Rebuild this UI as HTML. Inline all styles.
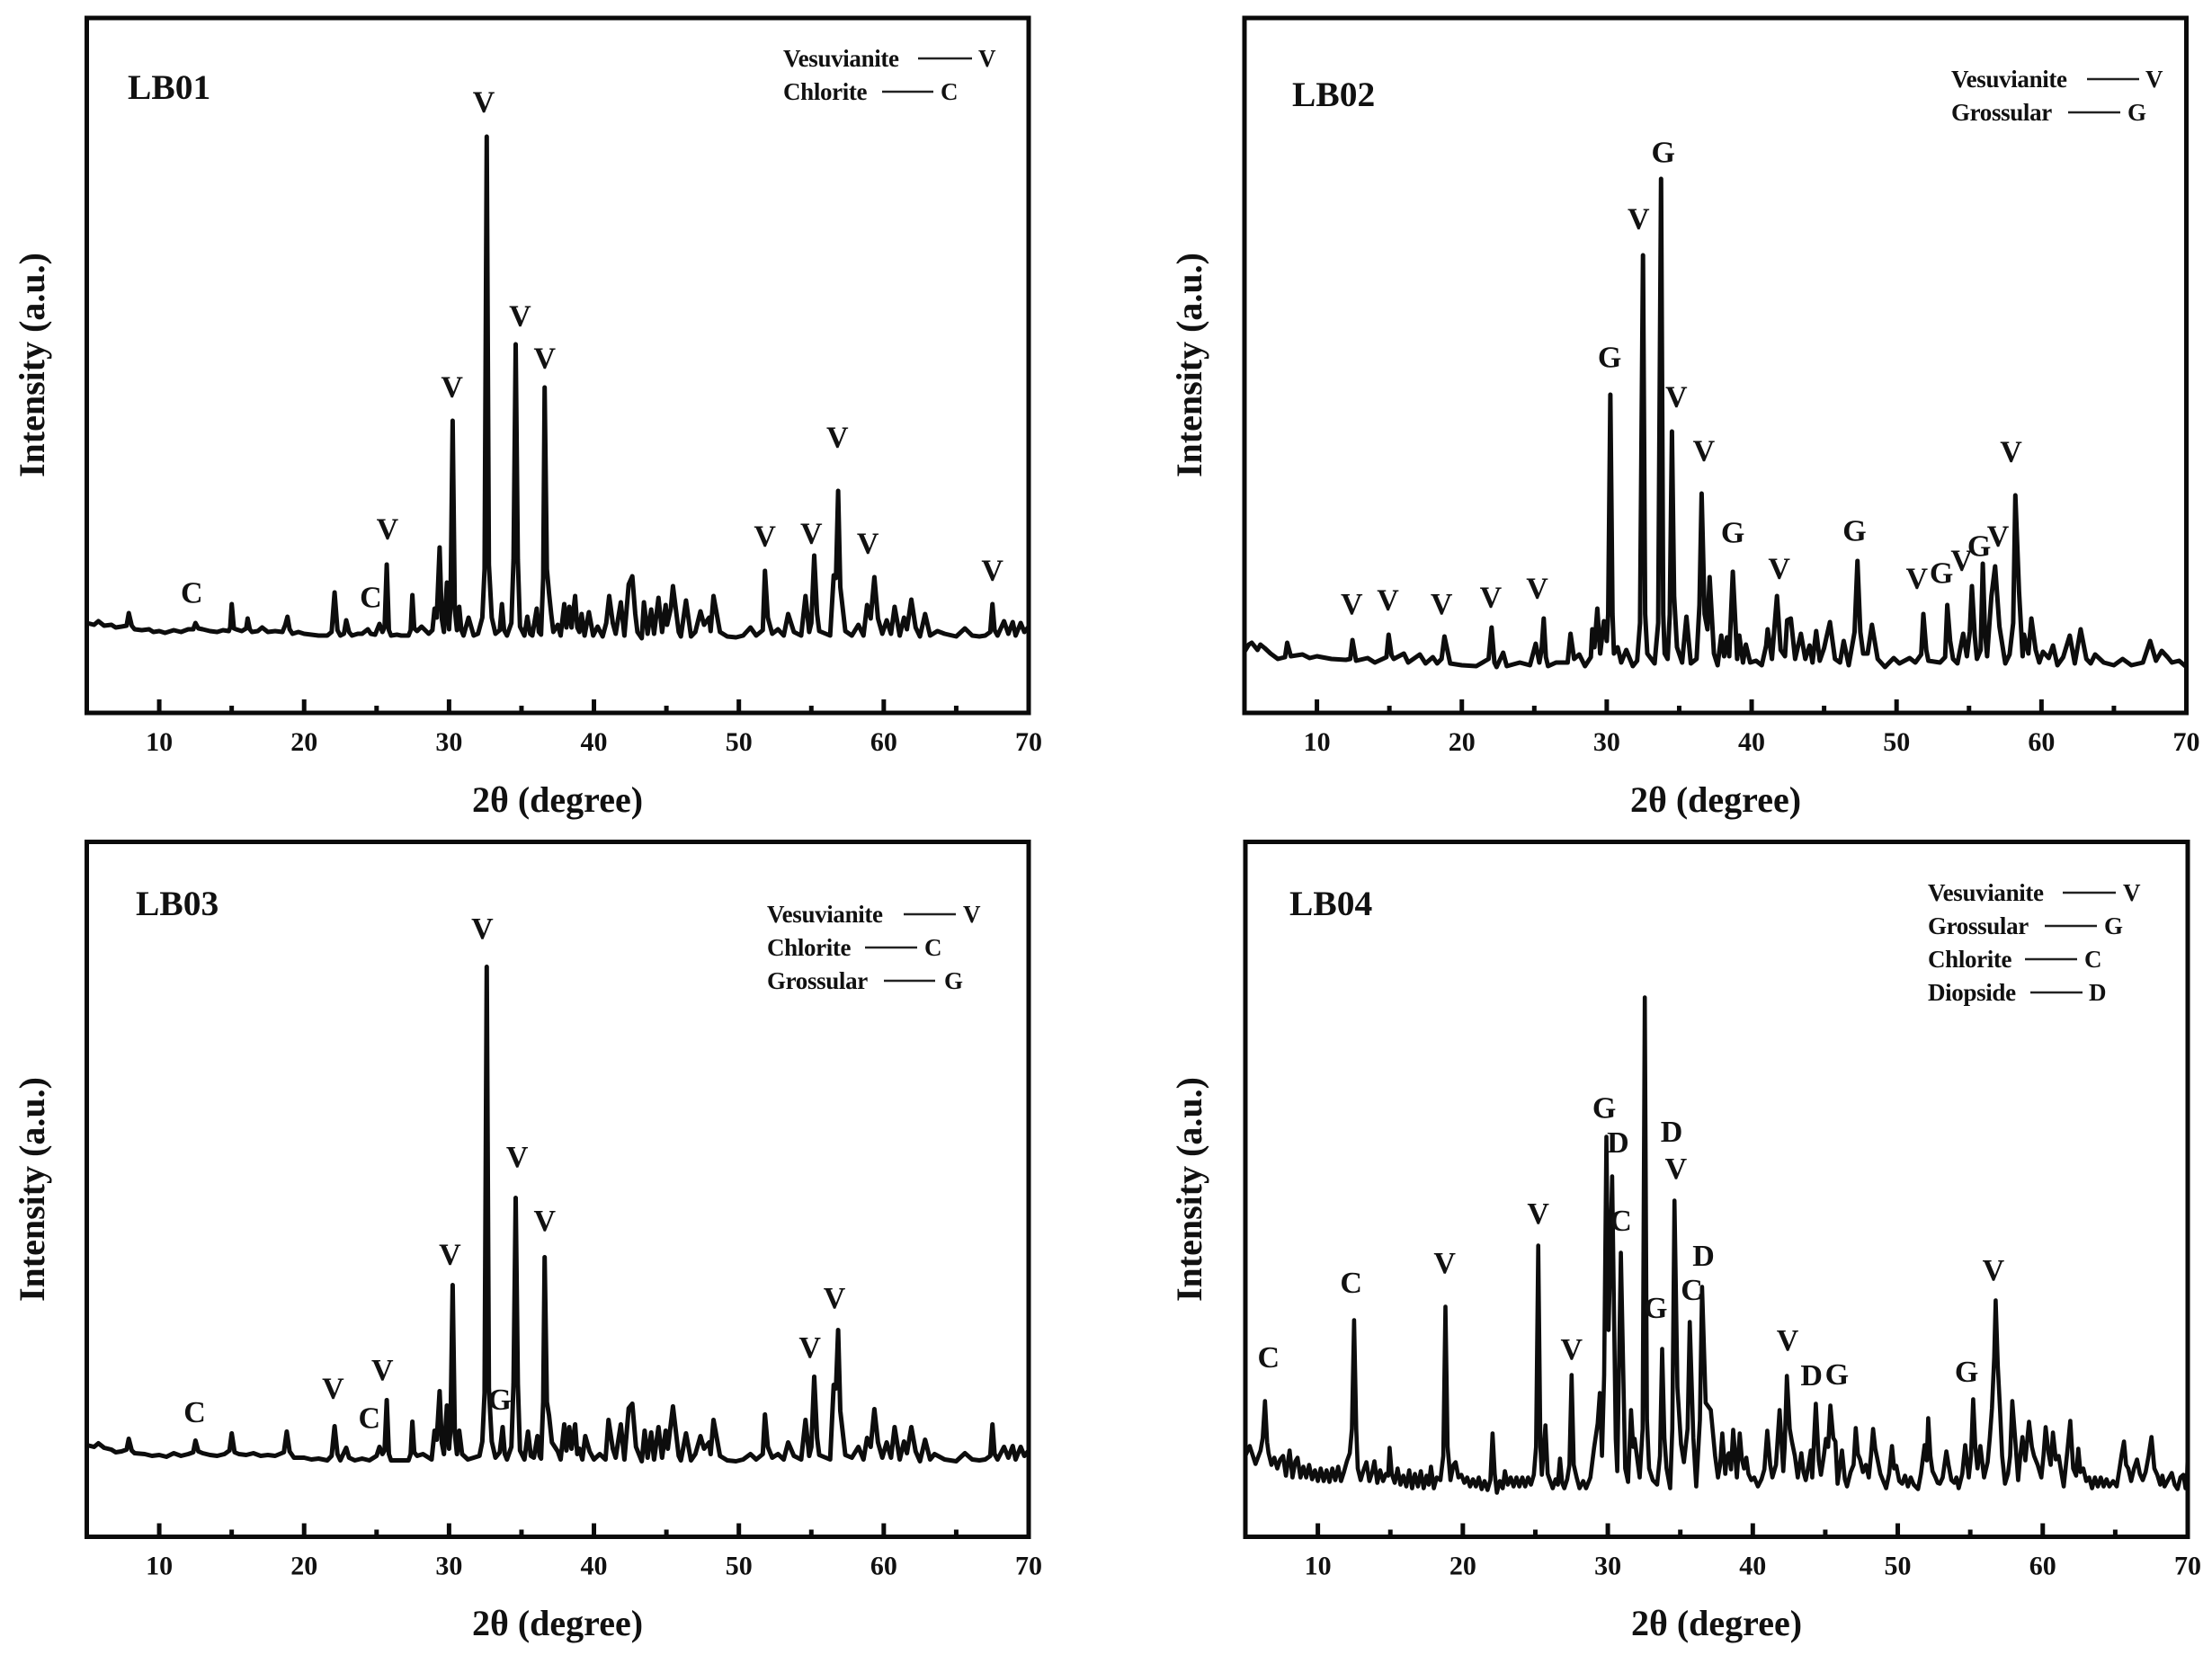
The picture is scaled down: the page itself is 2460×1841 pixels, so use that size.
<!DOCTYPE html>
<html lang="en">
<head>
<meta charset="utf-8">
<title>XRD patterns LB01-LB04</title>
<style>
html,body{margin:0;padding:0;background:#fff;}
svg{display:block;}
text{font-family:"Liberation Serif","DejaVu Serif",serif;font-weight:bold;fill:#111;}
.frame{fill:none;stroke:#0a0a0a;stroke-width:5;}
.trace{fill:none;stroke:#0d0d0d;stroke-linejoin:round;stroke-linecap:round;}
.tick{stroke:#0a0a0a;stroke-width:5;}
.ticklabel{font-size:30px;text-anchor:middle;}
.xtitle{font-size:40px;text-anchor:middle;}
.ytitle{font-size:40px;text-anchor:middle;}
.ptitle{font-size:39.5px;}
.leg{font-size:27px;letter-spacing:-0.35px;}
.dash{stroke:#222;stroke-width:2.5;}
.peak{font-size:34px;text-anchor:middle;}
</style>
</head>
<body>
<svg id="fig" xmlns="http://www.w3.org/2000/svg" width="2460" height="1841" viewBox="0 0 2460 1841">
<rect width="2460" height="1841" fill="#fff"/>

<g id="p1">
<text class="ptitle" x="142" y="110">LB01</text>
<g>
<text class="leg" x="871" y="74">Vesuvianite</text>
<line class="dash" x1="1021" x2="1081" y1="65" y2="65"/>
<text class="leg" x="1088" y="74">V</text>
<text class="leg" x="871" y="111">Chlorite</text>
<line class="dash" x1="981" x2="1038" y1="102" y2="102"/>
<text class="leg" x="1046" y="111">C</text>
</g>
<text class="xtitle" x="620" y="903">2θ (degree)</text>
<text class="ytitle" transform="translate(49,406) rotate(-90)">Intensity (a.u.)</text>
</g>

<g id="p2">
<text class="ptitle" x="1437" y="118">LB02</text>
<g>
<text class="leg" x="2170" y="97">Vesuvianite</text>
<line class="dash" x1="2321" x2="2379" y1="88" y2="88"/>
<text class="leg" x="2386" y="97">V</text>
<text class="leg" x="2170" y="134">Grossular</text>
<line class="dash" x1="2300" x2="2358" y1="125" y2="125"/>
<text class="leg" x="2366" y="134">G</text>
</g>
<text class="xtitle" x="1908" y="903">2θ (degree)</text>
<text class="ytitle" transform="translate(1336,406) rotate(-90)">Intensity (a.u.)</text>
</g>

<g id="p3">
<text class="ptitle" x="151" y="1018">LB03</text>
<g>
<text class="leg" x="853" y="1026">Vesuvianite</text>
<line class="dash" x1="1005" x2="1063" y1="1017" y2="1017"/>
<text class="leg" x="1071" y="1026">V</text>
<text class="leg" x="853" y="1063">Chlorite</text>
<line class="dash" x1="962" x2="1020" y1="1054" y2="1054"/>
<text class="leg" x="1028" y="1063">C</text>
<text class="leg" x="853" y="1100">Grossular</text>
<line class="dash" x1="983" x2="1040" y1="1091" y2="1091"/>
<text class="leg" x="1050" y="1100">G</text>
</g>
<text class="xtitle" x="620" y="1819">2θ (degree)</text>
<text class="ytitle" transform="translate(49,1323) rotate(-90)">Intensity (a.u.)</text>
</g>

<g id="p4">
<text class="ptitle" x="1434" y="1018">LB04</text>
<g>
<text class="leg" x="2144" y="1002">Vesuvianite</text>
<line class="dash" x1="2294" x2="2353" y1="993" y2="993"/>
<text class="leg" x="2361" y="1002">V</text>
<text class="leg" x="2144" y="1039">Grossular</text>
<line class="dash" x1="2274" x2="2332" y1="1030" y2="1030"/>
<text class="leg" x="2340" y="1039">G</text>
<text class="leg" x="2144" y="1076">Chlorite</text>
<line class="dash" x1="2252" x2="2310" y1="1067" y2="1067"/>
<text class="leg" x="2318" y="1076">C</text>
<text class="leg" x="2144" y="1113">Diopside</text>
<line class="dash" x1="2258" x2="2316" y1="1104" y2="1104"/>
<text class="leg" x="2323" y="1113">D</text>
</g>
<text class="xtitle" x="1909" y="1819">2θ (degree)</text>
<text class="ytitle" transform="translate(1336,1323) rotate(-90)">Intensity (a.u.)</text>
</g>
</svg>

<script>
const majorTicks = [10,20,30,40,50,60];
const minorTicks = [15,25,35,45,55,65];
const tickLabels = [10,20,30,40,50,60,70];

const lb01Theta = [
5,5.5,5.8,6.2,6.7,7,7.4,7.75,7.9,8.1,8.3,8.8,
9.3,9.6,10,10.4,11,11.5,12,12.35,12.5,12.7,13,13.5,
14,14.4,14.8,14.9,15,15.15,15.3,15.7,16,16.1,16.25,16.4,
16.8,17.1,17.5,18,18.5,18.7,18.85,19,19.2,19.6,20,20.5,
21,21.6,21.9,22.1,22.3,22.5,22.75,22.9,23.1,23.3,23.7,24,
24.4,24.6,24.9,25.2,25.4,25.55,25.7,25.85,26,26.4,26.7,27.2,
27.35,27.47,27.6,27.8,28.1,28.6,28.85,29,29.15,29.35,29.5,29.65,
29.85,30,30.1,30.25,30.4,30.55,30.7,30.85,31,31.35,31.7,32,
32.3,32.45,32.6,32.75,32.95,33.2,33.5,33.65,33.8,34,34.3,34.45,
34.6,34.75,34.9,35.2,35.4,35.6,35.75,36.05,36.2,36.35,36.5,36.6,
36.75,36.9,37.05,37.2,37.5,37.7,37.95,38.1,38.3,38.45,38.7,38.85,
39,39.15,39.35,39.65,39.95,40.25,40.6,40.85,41.05,41.3,41.5,41.85,
42.1,42.4,42.65,42.85,43,43.3,43.45,43.7,43.95,44.15,44.45,44.7,
44.95,45.05,45.3,45.45,45.85,46,46.35,46.7,47,47.35,47.6,47.95,
48.05,48.25,48.7,49.2,49.8,50.3,50.8,51.2,51.65,51.8,52,52.3,
52.7,53.1,53.4,53.8,54.3,54.6,54.85,55,55.2,55.4,55.55,56,
56.3,56.55,56.7,56.85,57,57.35,57.8,58.25,58.6,58.85,59.1,59.35,
59.6,59.9,60.2,60.5,60.75,61.1,61.4,61.6,61.9,62.2,62.5,62.85,
63.2,63.7,64.2,65,65.6,66.1,66.6,67,67.35,67.5,67.65,67.85,
68.3,68.6,68.9,69.1,69.45,69.7,70];
const lb01Intensity = [
100,98,102,97,98,95,96,97,111,97,93,92,
93,90,91,89,92,90,93,93,100,94,93,91,
90,92,91,95,121,94,93,91,94,105,93,90,
91,95,90,91,90,98,107,93,88,90,88,87,
86,86,90,134,92,86,88,103,90,86,88,88,
93,88,87,99,90,95,165,92,86,87,86,86,
92,131,94,91,96,88,92,116,106,184,105,90,
145,93,120,325,115,92,118,92,86,106,86,88,
106,160,641,165,106,88,92,121,92,86,100,170,
410,170,96,86,107,88,86,116,90,87,150,362,
160,133,110,90,98,86,121,95,118,95,130,95,
90,110,86,112,86,96,85,100,130,100,88,123,
86,143,152,110,90,83,123,88,115,88,128,90,
120,98,116,141,90,85,125,85,90,113,98,106,
91,130,90,85,84,86,95,86,92,158,106,88,
93,86,110,90,86,130,90,100,175,110,91,88,
86,153,150,247,140,91,86,98,86,120,105,151,
105,88,103,88,118,86,106,93,126,95,85,110,
86,91,88,85,94,86,85,86,90,121,92,86,
102,88,101,86,100,90,96];

const lb02Theta = [
5,5.3,5.5,5.9,6.1,6.4,6.8,7.3,7.8,7.95,8.2,9,
9.5,10,11,12,12.3,12.45,12.7,13.5,14,14.8,14.95,15.15,
15.3,16,16.3,17.1,17.5,18,18.3,18.6,18.8,19,19.2,20,
21,21.85,22.05,22.25,22.4,22.85,23.1,24,24.7,25.1,25.35,25.5,
25.65,25.8,25.95,26.5,27.3,27.5,27.75,28.1,28.5,28.9,29,29.15,
29.35,29.55,29.8,30,30.1,30.25,30.4,30.5,30.75,31,31.35,31.8,
32.1,32.3,32.5,32.65,32.8,33.3,33.55,33.75,33.9,34,34.2,34.35,
34.5,34.65,34.85,35.2,35.5,35.8,36.2,36.4,36.55,36.75,36.95,37.1,
37.4,37.65,37.9,38.1,38.3,38.45,38.7,39,39.15,39.4,39.6,39.9,
40.3,40.7,41,41.1,41.4,41.75,42,42.3,42.45,42.7,43,43.4,
43.7,44,44.2,44.45,44.7,45,45.15,45.4,45.75,46.1,46.35,46.7,
47.1,47.3,47.5,47.7,48,48.3,48.7,49.2,49.8,50.2,50.9,51.3,
51.7,51.85,52.05,52.2,53,53.35,53.5,53.7,53.9,54.2,54.6,54.85,
55.05,55.2,55.4,55.55,55.8,55.95,56.1,56.25,56.55,56.8,57.1,57.5,
57.8,58.05,58.2,58.45,58.7,58.8,59.1,59.3,59.6,59.85,60.1,60.5,
60.8,61.1,61.5,61.95,62.3,62.7,63.1,63.4,63.7,64.3,65,65.6,
66.2,67,67.5,67.9,68.3,68.7,69,69.5,70];
const lb02Intensity = [
68,76,78,70,76,72,66,60,62,78,63,65,
61,63,60,59,60,81,58,61,56,62,87,64,
60,66,56,65,55,62,55,60,85,70,55,53,
52,60,95,56,51,67,52,56,53,77,56,70,
105,62,52,56,56,88,60,65,52,62,93,73,
116,66,102,80,110,354,110,66,73,56,70,52,
58,100,509,110,66,55,100,594,110,66,60,110,
313,130,73,56,107,55,60,120,244,110,93,151,
66,53,86,63,84,63,157,60,86,56,76,56,
58,53,75,93,60,130,70,63,103,105,60,88,
60,75,56,91,58,72,83,101,60,56,80,53,
90,169,90,66,66,98,60,51,61,55,61,56,
65,110,70,58,56,62,120,80,60,55,88,63,
90,141,85,60,70,166,90,63,130,163,96,55,
65,100,242,135,63,87,66,105,70,56,68,61,
75,53,62,86,55,93,60,55,65,56,53,60,
53,56,80,58,69,62,56,58,51];

const lb03Theta = [
5,5.5,5.8,6.2,6.7,7,7.4,7.75,7.9,8.1,8.3,9,
9.5,10,10.5,11,11.5,12,12.35,12.5,12.7,13,13.5,14,
14.5,14.85,15,15.2,15.5,16,16.5,17,17.5,18,18.6,18.8,
19,19.3,20,20.5,21,21.6,21.9,22.1,22.3,22.5,22.9,23.1,
23.5,24,24.5,25,25.2,25.4,25.55,25.7,25.85,26,26.7,27.2,
27.35,27.47,27.6,27.8,28.2,28.8,29,29.15,29.35,29.5,29.65,29.85,
30,30.1,30.25,30.4,30.55,30.7,30.9,31.3,31.7,32.1,32.3,32.45,
32.6,32.75,32.95,33.2,33.5,33.7,33.85,34,34.3,34.45,34.6,34.75,
34.9,35.2,35.45,35.65,35.85,36.1,36.25,36.35,36.5,36.6,36.75,36.9,
37.1,37.5,37.7,37.95,38.1,38.3,38.45,38.7,38.85,39,39.2,39.4,39.7,
40,40.4,40.8,41,41.3,41.5,41.85,42.1,42.4,42.65,42.9,43.3,
43.5,43.7,43.95,44.15,44.45,44.7,44.95,45.1,45.45,45.85,46,46.35,
46.7,47,47.35,47.6,47.95,48.05,48.25,48.7,49.2,49.8,50.3,50.8,
51.2,51.65,51.8,52,52.3,52.7,53.1,53.4,53.8,54.3,54.6,54.85,
55,55.2,55.4,55.55,56,56.3,56.55,56.7,56.85,57,57.35,57.8,
58.25,58.6,58.85,59.1,59.35,59.6,59.9,60.2,60.5,60.75,61.1,61.4,
61.6,61.9,62.2,62.5,62.85,63.2,63.5,64.2,65,65.6,66.1,66.6,
67,67.35,67.5,67.65,67.85,68.3,68.6,68.9,69.1,69.45,69.7,70];
const lb03Intensity = [
102,100,104,99,97,94,95,97,109,96,93,92,
90,91,89,93,90,92,94,107,95,93,91,90,
92,96,115,94,92,91,93,90,91,90,94,117,
95,88,88,86,87,85,90,123,92,85,99,88,
85,87,85,90,100,92,96,152,92,85,85,85,
92,128,94,90,92,86,118,108,162,105,92,146,
98,120,280,115,92,118,92,86,88,90,106,160,
634,165,106,88,94,122,92,86,100,170,377,170,
96,86,117,90,88,112,90,87,150,311,150,135,
105,95,86,125,96,122,98,125,92,98,86,112,95,
86,92,86,130,98,88,125,86,143,148,100,84,
118,88,116,86,122,88,118,98,145,90,85,115,
85,92,112,98,105,92,130,90,85,84,86,92,
86,92,136,100,88,92,86,105,90,86,130,90,
100,178,110,91,88,86,169,165,230,140,91,88,
100,86,110,100,142,105,88,105,88,122,86,106,
93,122,95,84,108,86,92,86,84,93,86,85,
86,90,125,92,86,100,88,101,86,100,90,96];

const lb04Theta = [
5,5.3,5.7,6.05,6.2,6.35,6.5,
6.6,6.8,7,7.2,7.4,7.6,7.8,8.05,8.25,8.45,8.6,8.8,9,9.2,9.4,9.6,9.8,10,10.2,10.4,10.6,10.8,11,11.2,11.4,11.6,11.8,12,12.2,
12.35,12.5,12.65,
12.75,12.95,13.15,13.35,13.55,13.75,13.9,14.1,14.3,14.5,14.7,14.85,14.95,
15.1,15.3,15.5,15.7,15.9,16.1,16.3,16.5,16.7,16.9,17.1,17.3,17.5,17.65,17.8,18,18.2,18.45,18.65,
18.8,
18.95,19.15,19.35,19.5,19.7,19.9,20.1,20.3,20.5,20.7,20.9,21.1,21.3,21.5,21.7,21.9,22.05,22.2,22.35,22.55,22.75,22.9,23.1,23.3,23.5,23.7,23.9,24.1,24.3,24.5,24.7,24.9,25.05,
25.2,25.35,25.45,25.7,25.85,
26,26.2,26.4,26.55,26.7,26.85,27,27.2,27.35,27.5,27.65,27.85,28.05,28.3,28.5,28.8,
29.05,29.3,29.45,29.6,29.75,29.9,30.05,30.3,30.55,30.65,30.9,31.2,31.4,31.6,31.75,31.85,32.2,32.4,32.55,32.7,32.85,33.1,33.4,33.6,33.75,33.9,34.05,34.3,34.45,34.6,34.8,35.05,35.25,35.5,35.65,35.9,36.1,36.35,36.5,36.75,37.1,
37.4,37.6,37.75,37.9,38.1,38.2,38.35,38.5,38.65,38.9,39.1,39.25,39.4,39.55,39.7,39.9,40.1,40.35,40.6,40.8,41,41.2,41.35,41.6,41.85,42.1,42.2,42.35,42.55,42.7,42.9,43.1,43.35,43.5,43.65,43.85,44,44.1,44.35,44.55,44.7,44.9,45.05,45.2,45.35,45.55,45.7,45.85,
46.15,46.35,46.5,46.75,46.95,47.1,47.25,47.4,47.6,47.8,48,48.15,48.3,48.45,48.6,48.8,49,49.2,49.4,49.6,49.75,49.9,50.1,50.3,50.5,50.7,50.9,51.1,51.4,51.6,51.85,52,52.1,52.25,52.4,52.6,52.75,52.9,53.1,53.35,53.5,53.7,53.9,54.05,54.2,54.45,54.65,54.9,55.05,55.2,55.35,55.5,55.7,55.95,56.2,56.35,56.5,56.65,56.75,56.9,57.05,57.2,57.4,57.6,57.75,57.9,58.1,58.3,58.45,58.6,58.8,59.05,59.25,59.4,59.65,59.9,60.05,60.2,60.4,60.55,60.7,60.9,61.1,61.3,61.45,61.7,61.9,62.1,62.3,62.45,62.6,62.8,63,63.2,63.4,63.6,63.8,64,64.2,64.4,64.6,64.85,65.1,65.3,65.45,65.6,65.75,65.9,66.1,66.3,66.5,66.7,66.9,67.1,67.3,67.5,67.7,67.9,68.1,68.25,68.4,68.6,68.9,69.1,69.3,69.5,69.7,69.85,69.95,70];
const lb04Intensity = [
90,101,81,96,110,151,105,
93,80,88,76,86,90,68,96,66,84,88,66,78,66,80,64,74,62,76,62,74,61,76,63,78,62,72,84,93,
120,241,120,
76,63,74,83,62,72,84,60,74,62,70,68,99,
70,60,76,58,68,56,74,54,70,56,73,54,68,58,78,54,66,63,90,
256,
100,63,80,83,66,69,60,66,56,64,56,66,53,62,52,63,115,70,49,62,54,73,58,66,56,66,56,66,56,66,58,69,100,
324,100,69,124,70,
63,54,64,58,87,60,54,64,80,180,80,66,54,62,54,66,
99,126,160,90,180,445,230,401,109,73,316,76,61,141,100,109,66,120,600,130,76,63,58,90,209,110,76,54,120,374,166,103,83,120,239,110,56,130,278,149,141,
90,66,80,115,70,88,93,75,119,66,115,86,76,88,70,63,66,56,64,75,118,80,66,80,141,73,100,179,120,106,90,66,93,72,63,80,96,66,148,85,69,90,109,100,146,110,106,59,
96,64,56,72,80,121,92,86,72,80,66,90,120,98,86,70,62,54,70,101,76,79,62,59,68,56,66,58,53,70,102,85,132,90,73,66,60,59,66,95,80,63,60,66,54,70,102,66,90,153,100,76,101,66,83,110,143,200,263,190,143,90,59,70,90,151,109,63,90,111,85,128,100,90,80,66,90,122,93,80,116,86,90,70,56,96,129,76,68,98,72,76,62,66,54,66,56,66,56,64,56,62,56,76,92,106,80,76,62,76,86,70,63,72,90,111,76,69,58,68,56,62,71,58,53,66,69,54,63,90];

const lb01LabelText = ['C','C','V','V','V','V','V','V','V','V','V','V'];
const lb01LabelTheta = [12.25,24.6,25.75,30.2,32.4,34.9,36.6,51.8,55,56.8,58.9,67.5];
const lb01LabelLevel = [134,129,205,363,680,442,395,197,200,307,189,159];

const lb02LabelText = ['V','V','V','V','V','G','V','G','V','V','G','V','G','V','G','V','G','V','V'];
const lb02LabelTheta = [12.4,14.9,18.6,22,25.2,30.2,32.2,33.9,34.8,36.7,38.7,41.9,47.1,51.4,53.1,54.5,55.7,57,57.9];
const lb02LabelLevel = [121.5,126,121.5,129,139,396,550,624,352,292,201,161,203,150,156,170,186,197,291];

const lb03LabelText = ['C','V','C','V','V','V','G','V','V','V','V'];
const lb03LabelTheta = [12.45,22,24.5,25.4,30.06,32.3,33.5,34.7,36.6,54.9,56.6];
const lb03LabelLevel = [139,165.5,132.5,186,314.5,677,153,423,352,211,266];

const lb04LabelText = ['C','C','V','V','V','G','D','C','G','D','V','D','C','V','D','G','G','V'];
const lb04LabelTheta = [6.6,12.3,18.75,25.2,27.5,29.75,30.7,30.9,33.3,34.4,34.7,36.6,35.8,42.4,44.05,45.8,54.75,56.6];
const lb04LabelLevel = [200,283,305,360,209,477.5,439,352,255,451,410,313,275,219,180,181,184,297];

const SVGNS = 'http://www.w3.org/2000/svg';
const panels = [
  {id:'p1',left:96.5,right:1144,top:20,bottom:793,width:5,theta:lb01Theta,intensity:lb01Intensity,txt:lb01LabelText,lt:lb01LabelTheta,ll:lb01LabelLevel},
  {id:'p2',left:1384,right:2431.5,top:20,bottom:793,width:5,theta:lb02Theta,intensity:lb02Intensity,txt:lb02LabelText,lt:lb02LabelTheta,ll:lb02LabelLevel},
  {id:'p3',left:96.5,right:1144,top:936.5,bottom:1709.5,width:5,theta:lb03Theta,intensity:lb03Intensity,txt:lb03LabelText,lt:lb03LabelTheta,ll:lb03LabelLevel},
  {id:'p4',left:1385,right:2433,top:936.5,bottom:1709.5,width:4.6,theta:lb04Theta,intensity:lb04Intensity,txt:lb04LabelText,lt:lb04LabelTheta,ll:lb04LabelLevel}
];
function xPos(p, t){ return p.left + (t - 5) / 65 * (p.right - p.left); }
function yPos(p, v){ return p.bottom - v / 773 * (p.bottom - p.top); }

panels.forEach(function(p){
  const g = document.getElementById(p.id);

  const pts = [];
  const n = Math.min(p.theta.length, p.intensity.length);
  for (let i = 0; i < n; i++) {
    pts.push(xPos(p, p.theta[i]).toFixed(1) + ',' + yPos(p, p.intensity[i]).toFixed(1));
  }
  const line = document.createElementNS(SVGNS, 'polyline');
  line.setAttribute('class', 'trace');
  line.setAttribute('stroke-width', p.width);
  line.setAttribute('points', pts.join(' '));
  
  
  g.appendChild(line);

  majorTicks.forEach(function(t){
    const tick = document.createElementNS(SVGNS, 'line');
    tick.setAttribute('class', 'tick');
    tick.setAttribute('x1', xPos(p, t));
    tick.setAttribute('x2', xPos(p, t));
    tick.setAttribute('y1', p.bottom - 15);
    tick.setAttribute('y2', p.bottom);
    
    
    g.appendChild(tick);
  });
  minorTicks.forEach(function(t){
    const tick = document.createElementNS(SVGNS, 'line');
    tick.setAttribute('class', 'tick');
    tick.setAttribute('x1', xPos(p, t));
    tick.setAttribute('x2', xPos(p, t));
    tick.setAttribute('y1', p.bottom - 8);
    tick.setAttribute('y2', p.bottom);
    
    
    g.appendChild(tick);
  });
  tickLabels.forEach(function(t){
    const lab = document.createElementNS(SVGNS, 'text');
    lab.setAttribute('class', 'ticklabel');
    lab.setAttribute('x', xPos(p, t));
    lab.setAttribute('y', p.bottom + 42);
    lab.textContent = t;
    
    
    g.appendChild(lab);
  });

  const frame = document.createElementNS(SVGNS, 'rect');
  frame.setAttribute('class', 'frame');
  frame.setAttribute('x', p.left);
  frame.setAttribute('y', p.top);
  frame.setAttribute('width', p.right - p.left);
  frame.setAttribute('height', p.bottom - p.top);
  
  
  g.appendChild(frame);

  p.txt.forEach(function(s, i){
    const lab = document.createElementNS(SVGNS, 'text');
    lab.setAttribute('class', 'peak');
    lab.setAttribute('x', xPos(p, p.lt[i]));
    lab.setAttribute('y', yPos(p, p.ll[i]) + 11.5);
    lab.textContent = s;
    
    
    g.appendChild(lab);
  });
});
</script>
</body>
</html>
